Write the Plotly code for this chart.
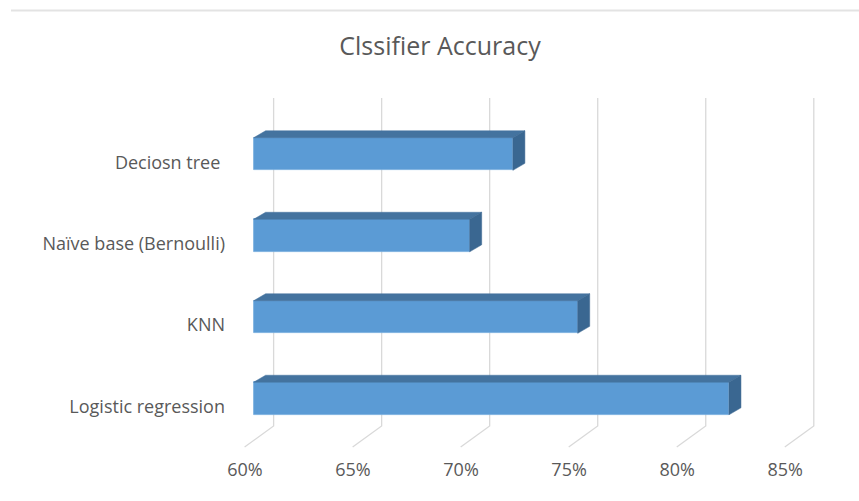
import plotly.graph_objects as go

# ---- data ----
categories = ["Logistic regression", "KNN", "Naïve base (Bernoulli)", "Deciosn tree "]
accuracy = [82, 75, 70, 72]          # percent
x_ticks = [60, 65, 70, 75, 80, 85]
x_tick_labels = ["60%", "65%", "70%", "75%", "80%", "85%"]
axis_min = 60

# ---- geometry (pixel scale helpers) ----
W, H = 859, 501
ML, MR, MT, MB = 232, 22, 90, 46
X_RANGE = [59, 87]
Y_RANGE = [-0.693, 3.786]
ux = (W - ML - MR) / (X_RANGE[1] - X_RANGE[0])   # px per x unit
uy = (H - MT - MB) / (Y_RANGE[1] - Y_RANGE[0])   # px per y unit

bar_w = 0.40
ddx = 12 / ux      # depth offset (right)
ddy = 7 / uy       # depth offset (up)
grid_back = 20 / ux
grid_front = -9 / ux
grid_top = 3.687
floor_back = -0.337
floor_front = -0.595
label_shift_x = -0.40
label_shift_y = -0.10

front_col = "#5B9BD5"
top_col = "#44739F"
side_col = "#3A6791"
grid_col = "#D9D9D9"
text_col = "#595959"

fig = go.Figure()

ys = list(range(len(categories)))

# front faces
fig.add_trace(go.Bar(
    y=ys, x=[v - axis_min for v in accuracy], base=axis_min,
    orientation="h", width=bar_w,
    marker=dict(color=front_col, line=dict(color="#74ABDD", width=0.8)),
    showlegend=False, hovertext=categories))

# top and side faces
for yc, v in zip(ys, accuracy):
    yt = yc + bar_w / 2
    yb = yc - bar_w / 2
    fig.add_trace(go.Scatter(
        x=[axis_min, v, v + ddx, axis_min + ddx, axis_min],
        y=[yt, yt, yt + ddy, yt + ddy, yt],
        fill="toself", fillcolor=top_col, mode="lines",
        line=dict(color=top_col, width=0.5),
        hoverinfo="skip", showlegend=False))
    fig.add_trace(go.Scatter(
        x=[v, v, v + ddx, v + ddx, v],
        y=[yb, yt, yt + ddy, yb + ddy, yb],
        fill="toself", fillcolor=side_col, mode="lines",
        line=dict(color=side_col, width=0.5),
        hoverinfo="skip", showlegend=False))

# gridlines (back wall + floor slant), drawn below the data
shapes = []
for t in x_ticks:
    xb = t + grid_back
    xf = t + grid_front
    shapes.append(dict(
        type="path", xref="x", yref="y", layer="below",
        path=f"M {xb},{grid_top} L {xb},{floor_back} L {xf},{floor_front}",
        line=dict(color=grid_col, width=1.3)))
shapes.append(dict(type="line", xref="paper", yref="paper",
                   x0=(11 - ML) / (W - ML - MR), x1=(W - ML) / (W - ML - MR),
                   y0=(H - MB - 10.5) / (H - MT - MB), y1=(H - MB - 10.5) / (H - MT - MB),
                   line=dict(color="#E3E3E3", width=2)))

fig.update_layout(
    width=W, height=H,
    margin=dict(l=ML, r=MR, t=MT, b=MB),
    paper_bgcolor="white", plot_bgcolor="white",
    font=dict(family="Open Sans", color=text_col, size=18),
    title=dict(text="Clssifier Accuracy", x=440 / W, xanchor="center",
               y=1 - 46 / H, yanchor="middle", yref="container",
               font=dict(size=25, color=text_col)),
    xaxis=dict(range=X_RANGE, showgrid=False, zeroline=False, showline=False,
               tickvals=[t + label_shift_x for t in x_ticks],
               ticktext=x_tick_labels, ticks="", ticklabelstandoff=2,
               fixedrange=True),
    yaxis=dict(range=Y_RANGE, showgrid=False, zeroline=False, showline=False,
               tickvals=[y + label_shift_y for y in ys],
               ticktext=categories, ticks="", ticklabelstandoff=6,
               fixedrange=True),
    bargap=0,
    shapes=shapes,
)

fig.write_html("out.html")
